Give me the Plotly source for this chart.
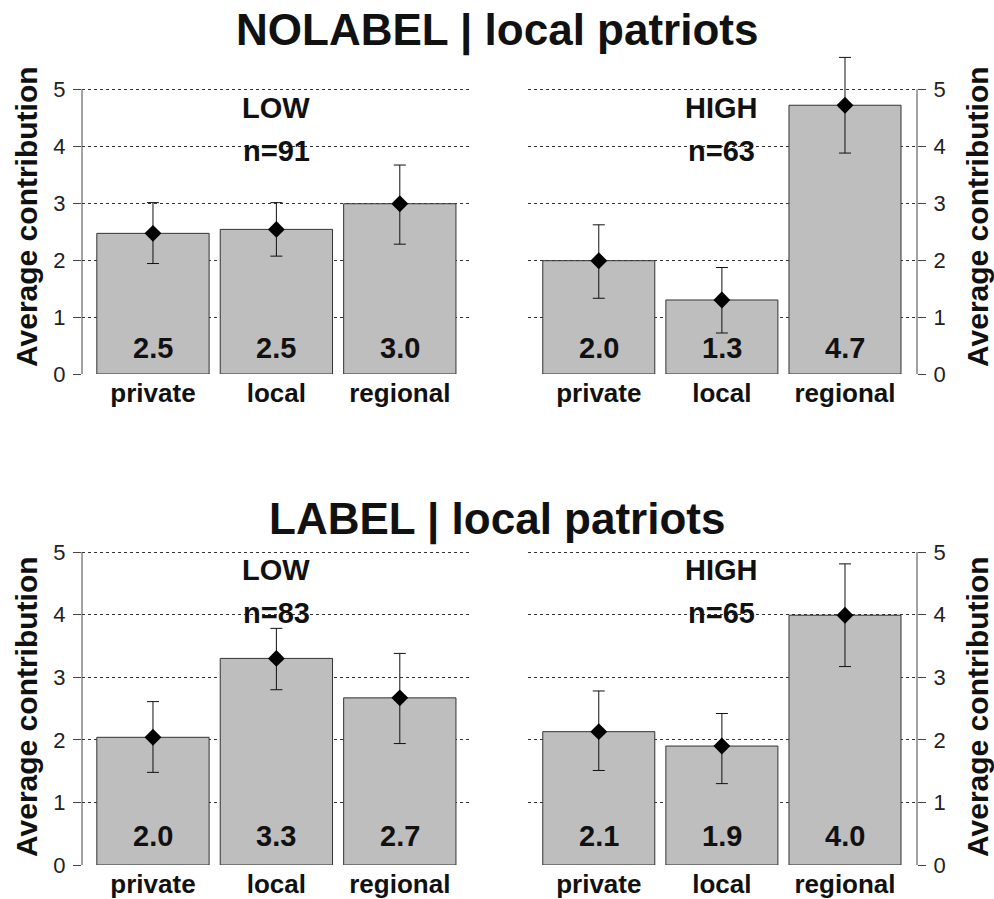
import plotly.graph_objects as go

categories = ["private", "local", "regional"]

nolabel_low_mean = [2.47, 2.54, 2.99]
nolabel_low_upper = [3.01, 3.01, 3.67]
nolabel_low_lower = [1.94, 2.07, 2.28]

nolabel_high_mean = [1.99, 1.30, 4.72]
nolabel_high_upper = [2.62, 1.87, 5.56]
nolabel_high_lower = [1.33, 0.72, 3.88]

label_low_mean = [2.04, 3.30, 2.67]
label_low_upper = [2.61, 3.78, 3.38]
label_low_lower = [1.48, 2.80, 1.94]

label_high_mean = [2.13, 1.90, 3.99]
label_high_upper = [2.78, 2.42, 4.81]
label_high_lower = [1.51, 1.30, 3.17]

group_names = ["LOW", "HIGH", "LOW", "HIGH"]
n_counts = [91, 63, 83, 65]
row_titles = ["NOLABEL | local patriots", "LABEL | local patriots"]
y_ticks = [0, 1, 2, 3, 4, 5]
y_title = "Average contribution"

FONT = "Liberation Sans"
W, H = 994, 899

panels = [
    (nolabel_low_mean, nolabel_low_upper, nolabel_low_lower),
    (nolabel_high_mean, nolabel_high_upper, nolabel_high_lower),
    (label_low_mean, label_low_upper, label_low_lower),
    (label_high_mean, label_high_upper, label_high_lower),
]

# layout geometry (pixels)
x_doms_px = [(82, 472), (528, 917), (82, 472), (528, 917)]
row_geom = [(374, 56.94, 5.75), (865, 62.6, 5.2)]  # y0 px, px per unit, ymax
label_y = [(4.67, 3.92), (4.71, 4.02)]
ytitle_center_px = [217, 707]
title_center_px = [30, 519]

fig = go.Figure()
layout = dict(
    width=W, height=H,
    margin=dict(l=0, r=0, t=0, b=0, autoexpand=False),
    paper_bgcolor="white", plot_bgcolor="white",
    showlegend=False,
    font=dict(family=FONT, color="#111"),
    annotations=[], shapes=[],
)

for i, (mean, upper, lower) in enumerate(panels):
    row = i // 2
    right = (i % 2 == 1)
    sfx = "" if i == 0 else str(i + 1)
    xa, ya = "x" + sfx, "y" + sfx
    y0px, unit, ymax = row_geom[row]
    x0, x1 = x_doms_px[i]
    ydom = [1 - y0px / H, 1 - (y0px - ymax * unit) / H]
    xdom = [x0 / W, x1 / W]

    fig.add_trace(go.Bar(
        x=categories, y=mean, width=0.91,
        marker=dict(color="#bebebe", line=dict(color="#333333", width=1)),
        xaxis=xa, yaxis=ya, hoverinfo="skip",
    ))
    fig.add_trace(go.Scatter(
        x=categories, y=mean, mode="markers",
        marker=dict(symbol="diamond", size=13, color="black"),
        error_y=dict(type="data", symmetric=False,
                     array=[u - m for u, m in zip(upper, mean)],
                     arrayminus=[m - l for m, l in zip(mean, lower)],
                     color="#111", thickness=1, width=6),
        xaxis=xa, yaxis=ya, cliponaxis=False, hoverinfo="skip",
    ))

    layout["xaxis" + sfx] = dict(
        domain=xdom, anchor=ya, type="category", automargin=False,
        range=[-0.575, 2.585], showgrid=False, zeroline=False, showline=False,
        ticks="", tickfont=dict(size=26, family=FONT, color="#111", weight="bold"),
        ticklabelstandoff=1,
    )
    layout["yaxis" + sfx] = dict(
        domain=ydom, anchor=xa, range=[0, ymax], automargin=False,
        side="right" if right else "left",
        tickvals=y_ticks, ticks="outside", ticklen=8, tickcolor="#444",
        tickfont=dict(size=22, family=FONT, color="#222"),
        ticklabelstandoff=3,
        showgrid=True, gridcolor="#333", griddash="dot", gridwidth=1,
        zeroline=False, showline=False,
    )
    layout["shapes"].append(dict(
        type="line", xref=xa + " domain", yref=ya,
        x0=1 if right else 0, x1=1 if right else 0, y0=0, y1=5,
        line=dict(color="#444", width=1),
    ))

    # value labels
    for k, v in enumerate(mean):
        layout["annotations"].append(dict(
            x=k, y=0.46, xref=xa, yref=ya, text=f"{v:.1f}", showarrow=False,
            xanchor="center", yanchor="middle",
            font=dict(size=29, family=FONT, color="#111", weight="bold"),
        ))
    ly, ny = label_y[row]
    layout["annotations"].append(dict(
        x=1, y=ly, xref=xa, yref=ya, text=group_names[i], showarrow=False,
        font=dict(size=29, family=FONT, color="#111", weight="bold"),
    ))
    layout["annotations"].append(dict(
        x=1, y=ny, xref=xa, yref=ya, text=f"n={n_counts[i]}", showarrow=False,
        font=dict(size=29, family=FONT, color="#111", weight="bold"),
    ))
    # axis title
    layout["annotations"].append(dict(
        x=(977 if right else 26) / W, y=1 - ytitle_center_px[row] / H,
        xref="paper", yref="paper", text=y_title, textangle=-90, showarrow=False,
        xanchor="center", yanchor="middle",
        font=dict(size=30, family=FONT, color="#111", weight="bold"),
    ))

for r, t in enumerate(row_titles):
    layout["annotations"].append(dict(
        x=0.5, y=1 - title_center_px[r] / H, xref="paper", yref="paper",
        text=t, showarrow=False, xanchor="center", yanchor="middle",
        font=dict(size=44, family=FONT, color="#111", weight="bold"),
    ))

fig.update_layout(**layout)
fig.write_html(
    "out.html",
    config={"displayModeBar": False},
    post_script=(
        "document.documentElement.style.margin='0';"
        "document.documentElement.style.padding='0';"
        "document.documentElement.style.overflow='hidden';"
        "document.body.style.margin='0';"
        "document.body.style.padding='0';"
        "document.body.style.overflow='hidden';"
    ),
)
